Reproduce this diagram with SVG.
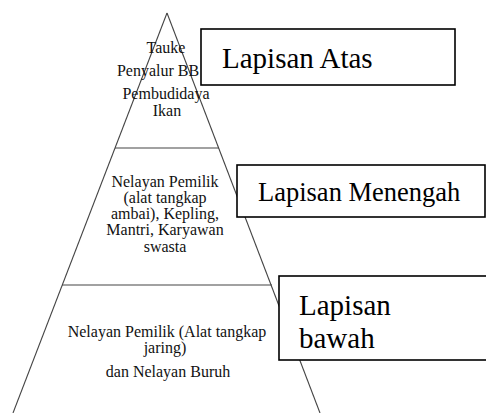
<svg xmlns="http://www.w3.org/2000/svg" width="486" height="413" viewBox="0 0 486 413">
<style>
.edge{stroke:#444;stroke-width:1.1;fill:none}
.t{font-family:"Liberation Serif","Times New Roman",serif;font-size:16px;fill:#111;text-anchor:middle}
.box{fill:#fff;stroke:#000;stroke-width:1.6}
.lb{font-family:"Liberation Serif","Times New Roman",serif;fill:#000}
</style>
<rect width="486" height="413" fill="#fff"/>
<g id="pyramid">
<line class="edge" x1="167" y1="13" x2="13" y2="413"/>
<line class="edge" x1="167" y1="13" x2="320" y2="413"/>
<line class="edge" x1="115" y1="148" x2="219" y2="148"/>
<line class="edge" x1="62" y1="285" x2="272" y2="285"/>
</g>
<g id="tier-top">
<text class="t" x="166" y="53">Tauke</text>
<text class="t" x="158" y="76">Penyalur BB</text>
<text class="t" x="166" y="99">Pembudidaya</text>
<text class="t" x="167" y="116">Ikan</text>
</g>
<g id="tier-middle">
<text class="t" x="165" y="187">Nelayan Pemilik</text>
<text class="t" x="165" y="203">(alat tangkap</text>
<text class="t" x="165" y="219">ambai), Kepling,</text>
<text class="t" x="165" y="235">Mantri, Karyawan</text>
<text class="t" x="165" y="252">swasta</text>
</g>
<g id="tier-bottom">
<text class="t" x="167" y="337">Nelayan Pemilik (Alat tangkap</text>
<text class="t" x="165" y="353">jaring)</text>
<text class="t" x="168" y="377">dan Nelayan Buruh</text>
</g>
<g id="label-atas">
<rect class="box" x="201" y="29" width="254" height="56"/>
<text class="lb" x="222" y="68" font-size="29">Lapisan Atas</text>
</g>
<g id="label-menengah">
<rect class="box" x="237" y="165" width="248" height="52"/>
<text class="lb" x="258" y="201" font-size="26.5">Lapisan Menengah</text>
</g>
<g id="label-bawah">
<rect class="box" x="279" y="276" width="220" height="84"/>
<text class="lb" x="299" y="315" font-size="29">Lapisan</text>
<text class="lb" x="299" y="348" font-size="29">bawah</text>
</g>
</svg>
